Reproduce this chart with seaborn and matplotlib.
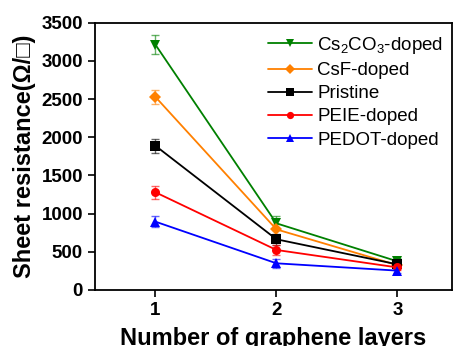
import pandas as pd
import matplotlib
matplotlib.use("Agg")
import matplotlib.pyplot as plt
import seaborn as sns

sns.set_style("ticks")
plt.rcParams['font.family'] = ['Liberation Sans', 'DejaVu Sans']
plt.rcParams['mathtext.fontset'] = 'custom'
plt.rcParams['mathtext.rm'] = 'Liberation Sans'
plt.rcParams['mathtext.it'] = 'Liberation Sans'
for k in ['text.color', 'axes.labelcolor', 'xtick.color', 'ytick.color', 'axes.edgecolor']:
    plt.rcParams[k] = 'black'

layers = [1, 2, 3]
samples = ['Cs$_2$CO$_3$-doped', 'CsF-doped', 'Pristine', 'PEIE-doped', 'PEDOT-doped']
cs2co3 = [3215, 873, 375]
csf = [2530, 794, 325]
pristine = [1890, 664, 335]
peie = [1280, 524, 295]
pedot = [895, 349, 253]
cs2co3_err = [120, 90, 40]
csf_err = [90, 70, 35]
pristine_err = [90, 70, 35]
peie_err = [85, 60, 30]
pedot_err = [70, 60, 30]
colors = ['#008000', '#FF8000', '#000000', '#FF0000', '#0000FF']
markers = ['v', 'D', 's', 'o', '^']

values = [cs2co3, csf, pristine, peie, pedot]
errors = [cs2co3_err, csf_err, pristine_err, peie_err, pedot_err]
rows = []
for s, v, e in zip(samples, values, errors):
    for x, y, err in zip(layers, v, e):
        rows.append({'layers': x, 'R': y, 'err': err, 'sample': s})
df = pd.DataFrame(rows)

fig = plt.figure(figsize=(4.56, 3.46), dpi=100)
ax = fig.add_axes([0.208, 0.162, 0.783, 0.772])

for s, c in zip(samples, colors):
    d = df[df['sample'] == s]
    ax.errorbar(d['layers'], d['R'], yerr=d['err'], fmt='none', ecolor=c,
                elinewidth=1.0, capsize=3, capthick=1.0, alpha=0.6, zorder=1)

sns.lineplot(data=df, x='layers', y='R', hue='sample', style='sample',
             hue_order=samples, style_order=samples, palette=colors,
             markers=markers, dashes=False, markersize=6.5, linewidth=1.3,
             markeredgewidth=0, ax=ax, zorder=2)

ax.set_xlim(0.5, 3.45)
ax.set_ylim(0, 3500)
ax.set_xticks(layers)
ax.set_yticks(range(0, 3501, 500))
ax.tick_params(axis='both', labelsize=13.5, direction='out', length=5, width=1.2,
               top=False, right=False)
for lab in ax.get_xticklabels() + ax.get_yticklabels():
    lab.set_fontweight('bold')
for sp in ax.spines.values():
    sp.set_linewidth(1.3)
ax.set_xlabel('Number of graphene layers', fontsize=17, fontweight='bold', labelpad=6)
ax.set_ylabel('Sheet resistance(Ω/□)', fontsize=17, fontweight='bold', labelpad=4)

ax.legend(loc='upper right', bbox_to_anchor=(1.01, 1.0), frameon=False,
          fontsize=13.5, handlelength=2.3, handletextpad=0.3, labelspacing=0.32,
          borderaxespad=0.25, markerscale=0.8)

fig.savefig('out.png', dpi=100)
